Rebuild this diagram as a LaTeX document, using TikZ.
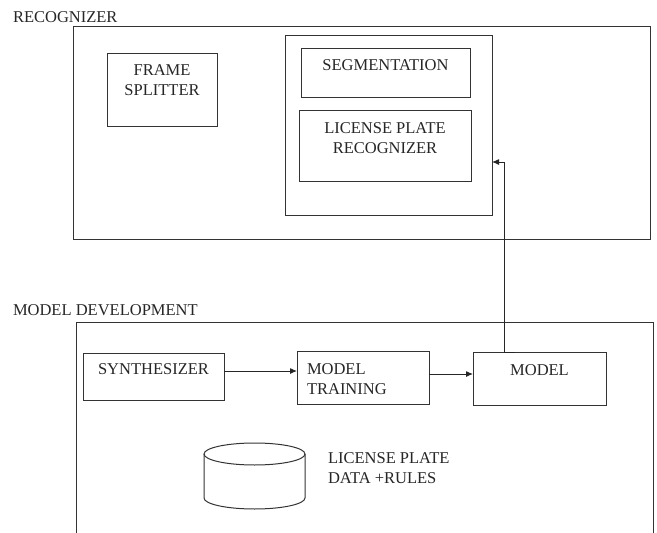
\documentclass[tikz,border=0pt]{standalone}
\usepackage{fontspec}
\setmainfont{Liberation Serif}
\usetikzlibrary{arrows.meta}
\newcommand{\bxt}[4]{\parbox[c][#2][t]{#1}{\vspace*{#3}\centering #4\par}}
\newcommand{\bxl}[4]{\parbox[c][#2][t]{#1}{\vspace*{#3}\raggedright\leftskip=10pt #4\par}}
\begin{document}
\begin{tikzpicture}[x=1pt,y=-1pt,
  every node/.style={font=\fontsize{16.5}{20}\selectfont, inner sep=0pt, outer sep=0pt, text=black!85},
  box/.style={draw=black!80, line width=1pt, rectangle, anchor=north west},
  arr/.style={draw=black!85, line width=1pt, -{Latex[length=7pt,width=6pt]}},
  shapeline/.style={draw=black!80, line width=1pt}]
\useasboundingbox (0,0) rectangle (657,533);
\clip (0,0) rectangle (657,533);
\fill[white] (0,0) rectangle (657,533);
% recognizer
\node[anchor=base west] (rtitle) at (13,22.5) {RECOGNIZER};
\node[box, minimum width=577pt, minimum height=213pt] (recog) at (73,26) {};
\node[box, minimum width=207pt, minimum height=180pt] (group) at (285,35) {};
\node[box] (seg) at (301,48) {\bxt{169pt}{49pt}{12pt}{SEGMENTATION}};
\node[box] (lpr) at (299,110) {\bxt{172pt}{71pt}{12.5pt}{LICENSE PLATE\\RECOGNIZER}};
\node[box] (frame) at (107,53) {\bxt{110pt}{73pt}{11.5pt}{FRAME\\SPLITTER}};
% model development
\node[anchor=base west] (mtitle) at (13,315.5) {MODEL DEVELOPMENT};
\node[box, minimum width=577pt, minimum height=240pt] (dev) at (76,322) {};
\node[box] (synth) at (83,353) {\bxt{141pt}{47pt}{10.5pt}{SYNTHESIZER}};
\node[box] (train) at (297,351) {\bxl{132pt}{53pt}{12.5pt}{MODEL\\TRAINING}};
\node[box] (model) at (473,352) {\bxt{133pt}{53pt}{12.5pt}{MODEL}};
% database cylinder
\coordinate (db) at (254.5,454);
\draw[shapeline] (db) ellipse [x radius=50.5, y radius=11];
\draw[shapeline] (204,454) -- (204,498) arc[start angle=180, end angle=0, x radius=50.5, y radius=11] -- (305,454);
\node[anchor=base west] (dbtext) at (328,463.5) {\parbox[t]{140pt}{\raggedright LICENSE PLATE\\DATA +RULES}};
% connectors
\draw[arr] ([yshift=5.5pt]synth.east) -- ([yshift=5.5pt]synth.east -| train.west);
\draw[arr] ([yshift=3.5pt]train.east) -- ([yshift=3.5pt]train.east -| model.west);
\draw[arr] ([xshift=-24.5pt]model.north) -- ([xshift=-35.5pt]model.north) |- ([yshift=-37pt]group.east);
\end{tikzpicture}
\end{document}
